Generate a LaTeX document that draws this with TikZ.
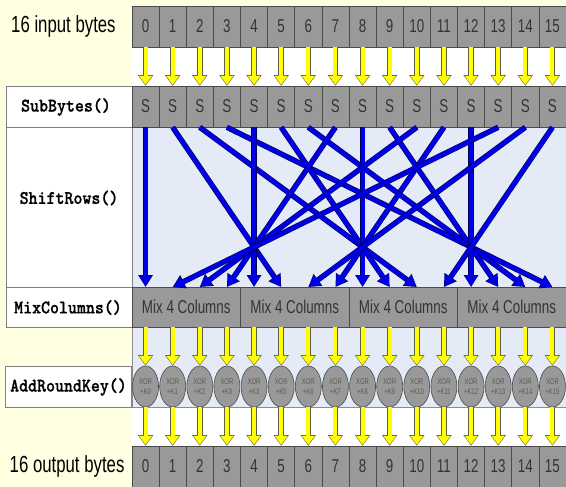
\documentclass[tikz,border=0pt]{standalone}
\usepackage{fontspec}
\usetikzlibrary{arrows.meta,shapes.geometric,calc}
\newfontfamily\cellfont{Liberation Sans}[FakeStretch=0.72]
\newfontfamily\labfont{lmmonolt10-bold.otf}[FakeStretch=0.89,FakeBold=0.9]
\definecolor{bgyellow}{RGB}{255,255,226}
\definecolor{cellgray}{RGB}{153,153,153}
\definecolor{cellline}{RGB}{75,75,75}
\definecolor{shiftblue}{RGB}{228,234,246}
\definecolor{arrblue}{RGB}{0,0,230}
\definecolor{arrnavy}{RGB}{0,0,105}
\definecolor{yel}{RGB}{255,255,0}
\definecolor{yelline}{RGB}{95,95,70}
\begin{document}
\begin{tikzpicture}[x=1pt,y=-1pt,
  cell/.style={rectangle, draw=cellline, line width=0.6pt, fill=cellgray,
    minimum width=27.125pt, minimum height=41pt, inner sep=0pt,
    font=\cellfont\fontsize{18.6}{20}\selectfont, text=black!80},
  mixbox/.style={cell, minimum width=108.5pt, minimum height=40pt},
  xorell/.style={ellipse, draw=cellline, line width=0.6pt, fill=cellgray,
    minimum width=26pt, minimum height=41pt, inner sep=0pt, align=center,
    font=\cellfont\fontsize{8.2}{10}\selectfont, text=black!65},
  labbox/.style={rectangle, draw=black!50, line width=0.6pt, fill=white,
    minimum width=126pt, inner sep=0pt},
  monolab/.style={inner sep=0pt, font=\labfont\fontsize{19.2}{20}\selectfont},
  biglab/.style={inner sep=0pt, anchor=west, font=\cellfont\fontsize{23.3}{24}\selectfont},
  region/.style={draw=black!45, line width=0.6pt},
  yarrout/.style={draw=yelline, line width=5.4pt, -{Triangle[length=10.5pt,width=14.5pt]}},
  yarrin/.style={draw=yel, line width=4.1pt, -{Triangle[length=9pt,width=12.4pt]}, shorten >=0.9pt},
  barrout/.style={draw=arrnavy, line width=5.4pt, -{Triangle[length=12pt,width=14pt]}},
  barrin/.style={draw=arrblue, line width=4pt, -{Triangle[length=10.4pt,width=12.1pt]}, shorten >=1pt}
]
\useasboundingbox (0,0) rectangle (566,487);
% backgrounds
\fill[bgyellow] (0,0) rectangle (566,487);
\fill[white] (132,47) rectangle (566,86);
\fill[white] (132,407) rectangle (566,446);
\draw[region, fill=shiftblue] (132,127) rectangle (566,287);
\draw[region, fill=shiftblue] (132,327) rectangle (566,407);
% label boxes
\node[labbox, minimum height=41pt] (lsub) at (69,106.5) {};
\node[monolab] (tsub) at (66,107) {SubBytes()};
\node[labbox, minimum height=160pt] (lshift) at (69,207) {};
\node[monolab] (tshift) at (69,198) {ShiftRows()};
\node[labbox, minimum height=40pt] (lmix) at (69,307) {};
\node[monolab] (tmix) at (68,307.5) {MixColumns()};
\node[labbox, minimum height=41pt] (ladd) at (68.5,386.5) {};
\node[monolab] (tadd) at (68.5,387) {AddRoundKey()};
\node[biglab] (tin) at (11,26.5) {16 input bytes};
\node[biglab] (tout) at (9.5,466.5) {16 output bytes};
% cells
\foreach \i in {0,...,15}{
  \pgfmathsetmacro{\cx}{132+27.125*(\i+0.5)}
  \node[cell] (in\i) at (\cx,26.5) {\i};
  \node[cell] (s\i) at (\cx,106.5) {S};
  \coordinate (t\i) at (\cx,287);
  \coordinate (b\i) at (\cx,327);
  \node[cell] (out\i) at (\cx,466.5) {\i};
}
\foreach \i/\k in {0/0,1/1,2/2,3/3,4/3,5/5,6/6,7/7,8/8,9/9,10/10,11/11,12/12,13/13,14/14,15/15}{
  \pgfmathsetmacro{\cx}{132+27.125*(\i+0.5)}
  \node[xorell] (x\i) at (\cx,386.5) {XOR\\+K\k};
}
\foreach \k in {0,...,3}{
  \pgfmathsetmacro{\mx}{132+108.5*(\k+0.5)}
  \node[mixbox] (mix\k) at (\mx,307) {Mix 4 Columns};
}
% yellow arrows
\foreach \i in {0,...,15}{
  \draw[yarrout] (in\i.south) -- (s\i.north);
  \draw[yarrin] (in\i.south) -- (s\i.north);
  \draw[yarrout] (b\i) -- (x\i.north);
  \draw[yarrin] (b\i) -- (x\i.north);
  \draw[yarrout] (x\i.south) -- (out\i.north);
  \draw[yarrin] (x\i.south) -- (out\i.north);
}
% ShiftRows arrows
\foreach \i/\j in {0/0,1/5,2/10,3/15,4/4,5/9,6/14,7/3,8/8,9/13,10/2,11/7,12/12,13/1,14/6,15/11}{
  \draw[barrout] (s\i.south) -- (t\j);
  \draw[barrin] (s\i.south) -- (t\j);
}
\end{tikzpicture}
\end{document}
